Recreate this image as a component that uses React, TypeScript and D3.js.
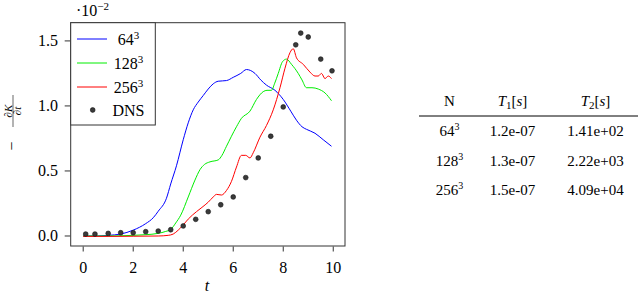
import * as d3 from 'd3'

// values are in units of 1e-2
const blueT = [0, 0.5, 1, 1.5, 2, 2.5, 2.8, 3, 3.33, 3.5, 3.73, 4, 4.2, 4.4, 4.6, 4.8, 5, 5.2, 5.4, 5.73, 6, 6.3, 6.53, 6.87, 7.1, 7.33, 7.67, 8, 8.3, 8.53, 8.75, 8.93, 9.27, 9.6, 9.93]
const blueV = [0, 0, 0.005, 0.015, 0.045, 0.095, 0.14, 0.19, 0.29, 0.4, 0.54, 0.74, 0.87, 0.97, 1.03, 1.08, 1.13, 1.17, 1.19, 1.195, 1.22, 1.25, 1.28, 1.25, 1.2, 1.16, 1.12, 1.05, 0.96, 0.89, 0.84, 0.82, 0.79, 0.74, 0.69]

const greenT = [0, 1, 2, 2.5, 3, 3.3, 3.5, 3.7, 3.9, 4.2, 4.47, 4.67, 4.85, 5.07, 5.4, 5.55, 5.73, 6.13, 6.33, 6.67, 6.93, 7.2, 7.35, 7.53, 7.65, 7.8, 7.97, 8.13, 8.33, 8.6, 8.75, 8.93, 9.15, 9.4, 9.67, 9.93]
const greenV = [0, 0, 0.005, 0.01, 0.02, 0.035, 0.05, 0.1, 0.16, 0.3, 0.43, 0.51, 0.55, 0.57, 0.585, 0.62, 0.69, 0.84, 0.905, 0.96, 1.05, 1.11, 1.12, 1.12, 1.17, 1.25, 1.34, 1.36, 1.32, 1.25, 1.2, 1.14, 1.14, 1.13, 1.1, 1.04]

const redT = [0, 1, 2, 3, 3.4, 3.6, 3.8, 4, 4.2, 4.53, 4.75, 5, 5.2, 5.33, 5.53, 5.73, 5.93, 6.13, 6.33, 6.5, 6.67, 6.8, 7.07, 7.33, 7.6, 7.87, 8.07, 8.27, 8.4, 8.53, 8.8, 9.07, 9.27, 9.4, 9.53, 9.67, 9.8, 9.93]
const redV = [-0.003, -0.003, -0.002, 0, 0.005, 0.015, 0.045, 0.085, 0.13, 0.187, 0.22, 0.26, 0.3, 0.32, 0.315, 0.35, 0.42, 0.53, 0.62, 0.62, 0.6, 0.64, 0.76, 0.85, 0.97, 1.14, 1.29, 1.41, 1.44, 1.37, 1.32, 1.26, 1.23, 1.23, 1.25, 1.21, 1.23, 1.21]

const dnsT = [0.1, 0.47, 1, 1.5, 2, 2.5, 3, 3.5, 4, 4.5, 5, 5.5, 6, 6.5, 7, 7.5, 8, 8.5, 8.7, 9, 9.5, 9.95]
const dnsV = [0.015, 0.015, 0.02, 0.025, 0.025, 0.033, 0.038, 0.048, 0.077, 0.128, 0.187, 0.24, 0.3, 0.449, 0.6, 0.767, 0.992, 1.47, 1.56, 1.53, 1.36, 1.27]

const xTicks = [0, 2, 4, 6, 8, 10]
const yTicks = [0, 0.5, 1, 1.5]

const seriesBase = ['64', '128', '256']
const seriesColor = ['#0000ff', '#00ee00', '#ff0000']

const tableT1 = ['1.2e-07', '1.3e-07', '1.5e-07']
const tableT2 = ['1.41e+02', '2.22e+03', '4.09e+04']

const FONT = "'Liberation Serif', serif"

export default function App() {
  const x = d3.scaleLinear().domain([-0.5, 10.47]).range([70.7, 345])
  const y = d3.scaleLinear().domain([-0.077, 1.64]).range([246, 22.7])

  const line = d3.line<[number, number]>()
    .x(d => x(d[0]))
    .y(d => y(d[1]))
    .curve(d3.curveMonotoneX)

  const series = [
    blueT.map((t, i) => [t, blueV[i]] as [number, number]),
    greenT.map((t, i) => [t, greenV[i]] as [number, number]),
    redT.map((t, i) => [t, redV[i]] as [number, number]),
  ]

  const [x0, x1] = x.range()
  const [y0, y1] = y.range()
  const frame = '#333'

  const legendY = [39, 63, 87]
  const colX = [449.5, 512.5, 595.5]
  const rowY = [136, 165.5, 195]

  return (
    <svg width={640} height={296} style={{ position: 'absolute', left: 0, top: 0, fontFamily: FONT }}>
      <rect width={640} height={296} fill="#fff" />
      {/* curves */}
      <g fill="none" strokeWidth={1}>
        {series.map((s, i) => (
          <path key={i} d={line(s) ?? ''} stroke={seriesColor[i]} />
        ))}
      </g>
      <g>
        {dnsT.map((t, i) => (
          <circle key={i} cx={x(t)} cy={y(dnsV[i])} r={2.4} fill="#3a3a3a" stroke="#111" strokeWidth={0.6} />
        ))}
      </g>
      {/* frame */}
      <rect x={x0} y={y1} width={x1 - x0} height={y0 - y1} fill="none" stroke={frame} strokeWidth={1} />
      {/* x ticks */}
      {xTicks.map(t => (
        <g key={t}>
          <line x1={x(t)} x2={x(t)} y1={y0 + 0.5} y2={y0 + 5.5} stroke={frame} />
          <text x={x(t)} y={273} textAnchor="middle" fontSize={16}>{t}</text>
        </g>
      ))}
      {yTicks.map(v => (
        <g key={v}>
          <line x1={x0 - 6} x2={x0 - 0.5} y1={y(v)} y2={y(v)} stroke={frame} />
          <text x={58} y={y(v) + 5.5} textAnchor="end" fontSize={16}>{d3.format('.1f')(v)}</text>
        </g>
      ))}
      <text x={207} y={291} fontSize={16} fontStyle="italic" textAnchor="middle">t</text>
      <text x={76} y={16} fontSize={16}>
        ·10<tspan dy={-6} fontSize={11}>−2</tspan>
      </text>
      {/* y label */}
      <g transform="translate(13,124) rotate(-90)">
        <text x={-22} y={4} textAnchor="middle" fontSize={16}>−</text>
        <text x={13} y={-1.5} textAnchor="middle" fontStyle="italic" fontSize={11}>∂K</text>
        <line x1={-3} x2={29} y1={0} y2={0} stroke="#000" strokeWidth={0.6} />
        <text x={13} y={8} textAnchor="middle" fontStyle="italic" fontSize={11}>∂t</text>
      </g>
      {/* legend */}
      <rect x={x0} y={y1} width={155.3 - x0} height={125 - y1} fill="#fff" stroke={frame} strokeWidth={1} />
      {seriesBase.map((b, i) => (
        <g key={b}>
          <line x1={77} x2={107} y1={legendY[i]} y2={legendY[i]} stroke={seriesColor[i]} strokeWidth={1} />
          <text x={128.5} y={legendY[i] + 5.5} textAnchor="middle" fontSize={16}>
            {b}<tspan dy={-6} fontSize={11}>3</tspan>
          </text>
        </g>
      ))}
      <circle cx={92.7} cy={110} r={2.4} fill="#3a3a3a" stroke="#111" strokeWidth={0.6} />
      <text x={128.5} y={115.5} textAnchor="middle" fontSize={16}>DNS</text>
      {/* table */}
      <g fontSize={15}>
        <text x={colX[0]} y={106} textAnchor="middle">N</text>
        <text x={colX[1]} y={106} textAnchor="middle">
          <tspan fontStyle="italic">T</tspan><tspan dy={3} fontSize={11}>1</tspan><tspan dy={-3}>[</tspan><tspan fontStyle="italic">s</tspan>]
        </text>
        <text x={colX[2]} y={106} textAnchor="middle">
          <tspan fontStyle="italic">T</tspan><tspan dy={3} fontSize={11}>2</tspan><tspan dy={-3}>[</tspan><tspan fontStyle="italic">s</tspan>]
        </text>
        <line x1={419} x2={638} y1={116} y2={116} stroke="#000" strokeWidth={1} />
        {seriesBase.map((b, i) => (
          <g key={b}>
            <text x={colX[0]} y={rowY[i]} textAnchor="middle">
              {b}<tspan dy={-6} fontSize={10}>3</tspan>
            </text>
            <text x={colX[1]} y={rowY[i]} textAnchor="middle">{tableT1[i]}</text>
            <text x={colX[2]} y={rowY[i]} textAnchor="middle">{tableT2[i]}</text>
          </g>
        ))}
      </g>
    </svg>
  )
}
